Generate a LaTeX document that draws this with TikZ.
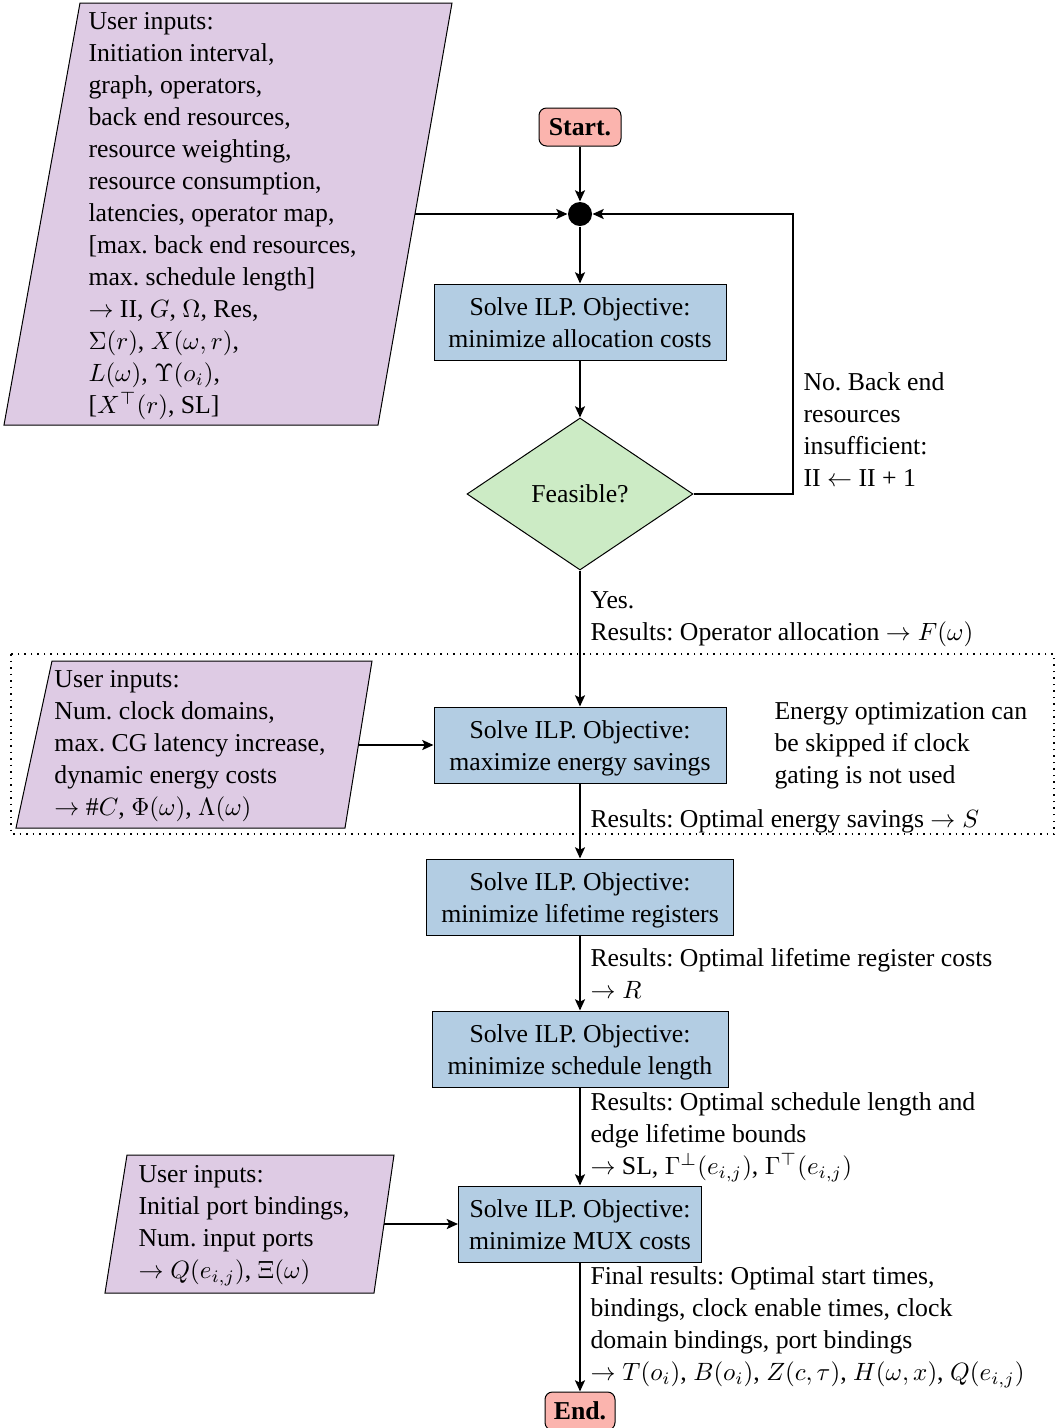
\documentclass[tikz,border=0pt]{standalone}
\usepackage{fontspec}
\setmainfont{Liberation Serif}
\usetikzlibrary{arrows.meta,shapes.geometric}
\frenchspacing

\definecolor{termfill}{HTML}{FBB4AE}
\definecolor{ilpfill}{HTML}{B3CDE3}
\definecolor{decfill}{HTML}{CCEBC5}
\definecolor{inputfill}{HTML}{DECBE4}

% two-line body of an ILP step (taller first strut lowers the text a little)
\newcommand\ilpbody[1]{\rule{0pt}{11.36pt}Solve ILP. Objective:\\\strut #1}

\begin{document}
\begin{tikzpicture}[x=0.4pt,y=-0.4pt,
  font=\fontsize{10.3}{12.8}\selectfont,
  ilp/.style={draw, fill=ilpfill, align=center, inner sep=0pt, minimum height=30.4pt},
  term/.style={draw, fill=termfill, rounded corners=3pt, inner sep=0pt,
    font=\fontsize{10.3}{12.8}\selectfont\bfseries},
  txt/.style={anchor=north west, align=left, inner sep=0pt},
  inputbox/.style={draw=black, fill=inputfill, line width=0.4pt},
  arr/.style={line width=0.8pt, -{Stealth[length=4.5pt,width=4pt,inset=1pt]}},
  thickarr/.style={line width=1.1pt, -{Stealth[length=4.5pt,width=4pt,inset=1pt]}}]

\useasboundingbox (0,0) rectangle (1062,1428);

% optional clock-gating stage
\draw[dotted, line width=0.6pt] (11,654) rectangle (1054,834);

% input parallelograms
\path[inputbox] (80,3) -- (452,3) -- (378,425) -- (4,425) -- cycle;
\path[inputbox] (52,661) -- (372,661) -- (345,828) -- (16,828) -- cycle;
\path[inputbox] (127,1155) -- (394,1155) -- (374,1293) -- (105,1293) -- cycle;
\coordinate (in1out) at (415,214);
\coordinate (in2out) at (358,745);
\coordinate (in3out) at (384,1224);

\node[txt] (in1) at (88,6.6) {\strut User inputs:\\Initiation interval,\\graph, operators,\\back end resources,\\resource weighting,\\resource consumption,\\latencies, operator map,\\{[}max. back end resources,\\max. schedule length]\\$\rightarrow$ II, $G$, $\Omega$, Res,\\$\Sigma(r)$, $X(\omega,r)$,\\$L(\omega)$, $\Upsilon(o_i)$,\\{[}$X^{\top}(r)$, SL]};
\node[txt] (in2) at (54,664.6) {\strut User inputs:\\Num. clock domains,\\max. CG latency increase,\\dynamic energy costs\\$\rightarrow$ \#$C$, $\Phi(\omega)$, $\Lambda(\omega)$};
\node[txt] (in3) at (138,1159.6) {\strut User inputs:\\Initial port bindings,\\Num. input ports\\$\rightarrow Q(e_{i,j})$, $\Xi(\omega)$};

% flow nodes
\node[term, minimum width=32.8pt, minimum height=15.2pt] (start) at (580,127) {Start.};
\node[circle, fill=black, inner sep=0pt, minimum size=9.6pt] (join) at (580,214) {};
\node[ilp, minimum width=116.8pt] (alloc) at (580,322) {\ilpbody{minimize allocation costs}};
\node[diamond, draw, fill=decfill, aspect=1.49, inner sep=0pt,
  minimum width=90.4pt, minimum height=60.8pt] (feas) at (580,494) {Feasible?};
\node[ilp, minimum width=116.8pt] (energy) at (580,745) {\ilpbody{maximize energy savings}};
\node[ilp, minimum width=122.8pt] (life) at (580,897) {\ilpbody{minimize lifetime registers}};
\node[ilp, minimum width=118.4pt] (sched) at (580,1049) {\ilpbody{minimize schedule length}};
\node[ilp, minimum width=97.2pt] (mux) at (580,1224) {\ilpbody{minimize MUX costs}};
\node[term, minimum width=28pt, minimum height=15.2pt] (finish) at (580,1411) {End.};

% annotations
\node[txt] (retry) at (803,367.6) {\strut No. Back end\\resources\\insufficient:\\II $\leftarrow$ II + 1};
\node[txt] (res1) at (590,585.6) {\strut Yes.\\Results: Operator allocation $\rightarrow F(\omega)$};
\node[txt] (skip) at (774,696.6) {\strut Energy optimization can\\be skipped if clock\\gating is not used};
\node[txt] (res2) at (590,804.6) {\strut Results: Optimal energy savings $\rightarrow S$};
\node[txt] (res3) at (590,943.6) {\strut Results: Optimal lifetime register costs\\$\rightarrow R$};
\node[txt] (res4) at (590,1087.6) {\strut Results: Optimal schedule length and\\edge lifetime bounds\\$\rightarrow$ SL, $\Gamma^{\perp}(e_{i,j})$, $\Gamma^{\top}(e_{i,j})$};
\node[txt] (res5) at (590,1261.6) {\strut Final results: Optimal start times,\\bindings, clock enable times, clock\\domain bindings, port bindings\\$\rightarrow T(o_i)$, $B(o_i)$, $Z(c,\tau)$, $H(\omega,x)$, $Q(e_{i,j})$};

% connectors
\coordinate (loop) at (793,214);
\draw[arr] (start) -- (join);
\draw[arr] (in1out) -- (join);
\draw[arr] (join) -- (alloc);
\draw[arr] (alloc) -- (feas);
\draw[arr] (feas.east) -| (loop) -- (join);
\draw[arr] (feas) -- (energy);
\draw[thickarr] (in2out) -- (energy);
\draw[arr] (energy) -- (life);
\draw[arr] (life) -- (sched);
\draw[arr] (sched) -- (mux);
\draw[thickarr] (in3out) -- (mux);
\draw[arr] (mux) -- (finish);
\end{tikzpicture}
\end{document}
